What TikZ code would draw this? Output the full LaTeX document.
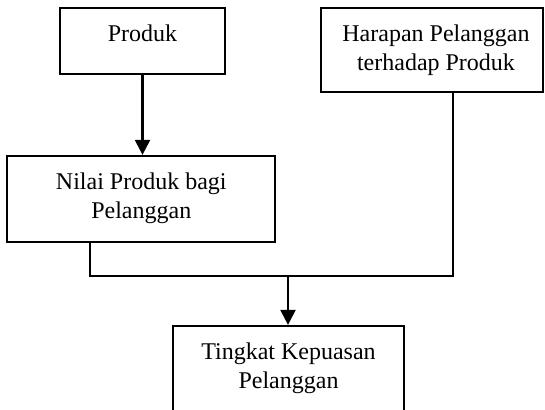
\documentclass[tikz,border=0pt]{standalone}
\usepackage{fontspec}
\setmainfont{Liberation Serif}
\usetikzlibrary{arrows.meta}
\begin{document}
\begin{tikzpicture}[x=1pt,y=-1pt,
  box/.style={draw, line width=2.2pt, rectangle, inner sep=0pt},
  lbl/.style={anchor=north, align=center, inner sep=0pt, yshift=-18pt,
    font=\fontsize{24}{29}\selectfont},
  conn/.style={line width=2.2pt},
  arr/.style={conn, -{Triangle[length=15pt,width=15pt]}}]
\useasboundingbox (0,0) rectangle (545,409);
\clip (0,0) rectangle (545,409);
\fill[white] (0,0) rectangle (545,409);
% boxes
\node[box, minimum width=165pt, minimum height=66pt] (produk) at (142.5,41) {};
\node[box, minimum width=222pt, minimum height=84pt] (harapan) at (432,50) {};
\node[box, minimum width=268pt, minimum height=86pt] (nilai) at (141.3,199) {};
\node[box, minimum width=231pt, minimum height=110pt] (tingkat) at (288.5,381) {};
% texts
\node[lbl] (produkT) at (produk.north) {Produk};
\node[lbl] (harapanT) at ([xshift=4pt]harapan.north) {Harapan Pelanggan\\terhadap Produk};
\node[lbl] (nilaiT) at (nilai.north) {Nilai Produk bagi\\Pelanggan};
\node[lbl] (tingkatT) at (tingkat.north) {Tingkat Kepuasan\\Pelanggan};
% junction points
\coordinate (j1) at (90,276);
\coordinate (j2) at (453,276);
\coordinate (j3) at (288,276);
% connectors
\draw[arr] (produk.south) -- (produk.south |- nilai.north);
\draw[conn] (nilai.south -| j1) -- (j1) -- (j2) -- (harapan.south -| j2);
\draw[arr] (j3) -- (j3 |- tingkat.north);
\end{tikzpicture}
\end{document}
